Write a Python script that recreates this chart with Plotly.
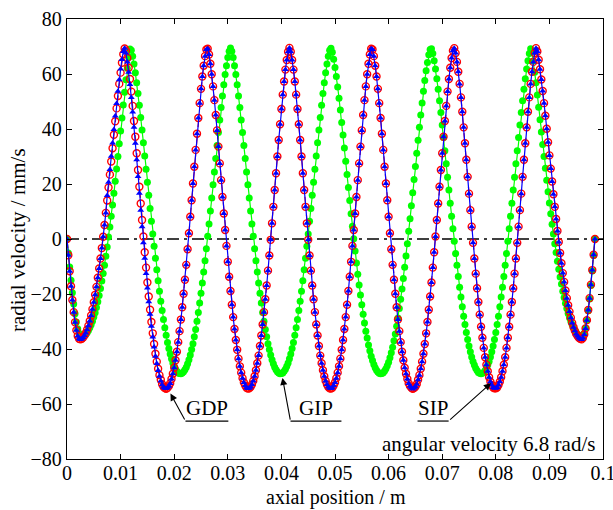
import plotly.graph_objects as go

# axial sample positions (m): uniform 0.00025 m step from 0 to 0.0985
axial_position_m = [round(0.00025 * i, 5) for i in range(395)]

# radial velocity (mm/s), one row = 0.0025 m
gdp_velocity = [
    0, -5.9, -11.7, -17.2, -22.2, -26.6, -30.3, -33.2, -35.3, -36.3,
    -36.5, -36.3, -35.8, -35.1, -34.2, -33.0, -31.5, -29.8, -27.8, -25.5,
    -23.0, -20.3, -17.4, -14.1, -10.7, -7.1, -3.3, 0.8, 5.1, 9.5,
    14.0, 18.7, 23.4, 28.2, 33.0, 37.9, 42.8, 47.5, 52.0, 56.4,
    60.5, 64.1, 67.2, 69.3, 68.5, 65.8, 62.3, 58.2, 53.6, 48.4,
    42.9, 37.2, 31.2, 25.1, 19.0, 12.9, 6.9, 0.9, -4.8, -10.4,
    -15.8, -20.9, -25.7, -30.2, -34.3, -38.2, -41.7, -44.6, -47.2, -49.5,
    -51.2, -52.8, -53.7, -54.2, -54.5, -54.1, -53.5, -52.5, -50.9, -49.0,
    -46.8, -44.1, -41.0, -37.5, -33.5, -29.3, -24.8, -19.9, -14.8, -9.4,
    -3.7, 2.1, 8.1, 14.1, 20.2, 26.3, 32.4, 38.3, 44.0, 49.4,
    54.6, 59.1, 63.0, 66.5, 68.9, 69.2, 67.1, 63.7, 59.9, 55.5,
    50.5, 45.1, 39.5, 33.6, 27.5, 21.4, 15.3, 9.3, 3.3, -2.5,
    -8.3, -13.7, -18.9, -23.9, -28.4, -32.7, -36.7, -40.3, -43.5, -46.3,
    -48.6, -50.6, -52.2, -53.3, -54.1, -54.4, -54.3, -53.8, -52.9, -51.6,
    -49.9, -47.7, -45.2, -42.4, -38.9, -35.1, -31.1, -26.6, -21.9, -16.9,
    -11.5, -6.0, -0.3, 5.7, 11.7, 17.8, 23.9, 30.0, 36.0, 41.7,
    47.3, 52.5, 57.3, 61.6, 65.1, 68.1, 69.5, 68.1, 65.1, 61.6,
    57.3, 52.5, 47.3, 41.7, 36.0, 30.0, 23.9, 17.8, 11.7, 5.7,
    -0.3, -6.0, -11.5, -16.9, -21.9, -26.6, -31.1, -35.1, -38.9, -42.4,
    -45.2, -47.7, -49.9, -51.6, -52.9, -53.8, -54.3, -54.4, -54.1, -53.3,
    -52.2, -50.6, -48.6, -46.3, -43.5, -40.3, -36.7, -32.7, -28.4, -23.9,
    -18.9, -13.7, -8.3, -2.5, 3.3, 9.3, 15.3, 21.4, 27.5, 33.6,
    39.5, 45.1, 50.5, 55.5, 59.9, 63.7, 67.1, 69.2, 68.9, 66.5,
    63.0, 59.1, 54.6, 49.4, 44.0, 38.3, 32.4, 26.3, 20.2, 14.1,
    8.1, 2.1, -3.7, -9.4, -14.8, -19.9, -24.8, -29.3, -33.5, -37.5,
    -41.0, -44.1, -46.8, -49.0, -50.9, -52.5, -53.5, -54.1, -54.5, -54.2,
    -53.7, -52.8, -51.2, -49.5, -47.2, -44.6, -41.7, -38.2, -34.3, -30.2,
    -25.7, -20.9, -15.8, -10.4, -4.8, 0.9, 6.9, 12.9, 19.0, 25.1,
    31.2, 37.2, 42.9, 48.4, 53.6, 58.2, 62.3, 65.8, 68.5, 69.4,
    67.6, 64.4, 60.8, 56.4, 51.5, 46.3, 40.6, 34.8, 28.8, 22.6,
    16.5, 10.5, 4.5, -1.4, -7.1, -12.6, -17.9, -22.9, -27.5, -31.9,
    -35.9, -39.6, -43.0, -45.7, -48.1, -50.3, -51.9, -53.1, -54.0, -54.3,
    -54.3, -54.0, -53.1, -51.9, -50.3, -48.1, -45.7, -43.0, -39.6, -35.9,
    -31.9, -27.5, -22.9, -17.9, -12.6, -7.1, -1.4, 4.5, 10.5, 16.5,
    22.6, 28.8, 34.8, 40.6, 46.3, 51.5, 56.4, 60.8, 64.4, 67.6,
    69.4, 68.2, 65.2, 61.7, 58.0, 53.8, 49.4, 44.8, 40.1, 35.2,
    30.4, 25.6, 20.9, 16.3, 11.7, 7.3, 2.9, -1.1, -5.1, -8.8,
    -12.4, -15.6, -18.7, -21.5, -24.1, -26.4, -28.6, -30.5, -32.1, -33.4,
    -34.5, -35.3, -35.9, -36.3, -36.5, -36.0, -34.7, -32.5, -29.5, -25.8,
    -21.5, -16.6, -11.3, -5.7, 0,
]

sip_velocity = [
    0, -5.9, -11.7, -17.2, -22.2, -26.6, -30.3, -33.2, -35.3, -36.3,
    -36.5, -36.3, -35.8, -35.1, -34.2, -33.0, -31.5, -29.8, -27.8, -25.5,
    -23.0, -20.3, -17.4, -14.1, -10.7, -7.1, -3.3, 0.8, 5.1, 9.5,
    15.8, 20.6, 25.3, 30.1, 34.9, 39.8, 44.7, 49.3, 53.7, 57.9,
    61.8, 65.3, 68.2, 69.4, 67.6, 64.4, 60.6, 56.2, 51.5, 46.2,
    40.6, 34.8, 28.8, 22.7, 16.6, 10.5, 4.5, -1.4, -7.0, -12.5,
    -17.8, -22.8, -27.4, -31.7, -35.6, -39.3, -42.6, -45.3, -47.8, -49.9,
    -51.6, -53.0, -53.9, -54.3, -54.4, -54.1, -53.5, -52.5, -50.9, -49.0,
    -46.8, -44.1, -41.0, -37.5, -33.5, -29.3, -24.8, -19.9, -14.8, -9.4,
    -3.7, 2.1, 8.1, 14.1, 20.2, 26.3, 32.4, 38.3, 44.0, 49.4,
    54.6, 59.1, 63.0, 66.5, 68.9, 69.2, 67.1, 63.7, 59.9, 55.5,
    50.5, 45.1, 39.5, 33.6, 27.5, 21.4, 15.3, 9.3, 3.3, -2.5,
    -8.3, -13.7, -18.9, -23.9, -28.4, -32.7, -36.7, -40.3, -43.5, -46.3,
    -48.6, -50.6, -52.2, -53.3, -54.1, -54.4, -54.3, -53.8, -52.9, -51.6,
    -49.9, -47.7, -45.2, -42.4, -38.9, -35.1, -31.1, -26.6, -21.9, -16.9,
    -11.5, -6.0, -0.3, 5.7, 11.7, 17.8, 23.9, 30.0, 36.0, 41.7,
    47.3, 52.5, 57.3, 61.6, 65.1, 68.1, 69.5, 68.1, 65.1, 61.6,
    57.3, 52.5, 47.3, 41.7, 36.0, 30.0, 23.9, 17.8, 11.7, 5.7,
    -0.3, -6.0, -11.5, -16.9, -21.9, -26.6, -31.1, -35.1, -38.9, -42.4,
    -45.2, -47.7, -49.9, -51.6, -52.9, -53.8, -54.3, -54.4, -54.1, -53.3,
    -52.2, -50.6, -48.6, -46.3, -43.5, -40.3, -36.7, -32.7, -28.4, -23.9,
    -18.9, -13.7, -8.3, -2.5, 3.3, 9.3, 15.3, 21.4, 27.5, 33.6,
    39.5, 45.1, 50.5, 55.5, 59.9, 63.7, 67.1, 69.2, 68.9, 66.5,
    63.0, 59.1, 54.6, 49.4, 44.0, 38.3, 32.4, 26.3, 20.2, 14.1,
    8.1, 2.1, -3.7, -9.4, -14.8, -19.9, -24.8, -29.3, -33.5, -37.5,
    -41.0, -44.1, -46.8, -49.0, -50.9, -52.5, -53.5, -54.1, -54.5, -54.2,
    -53.7, -52.8, -51.2, -49.5, -47.2, -44.6, -41.7, -38.2, -34.3, -30.2,
    -25.7, -20.9, -15.8, -10.4, -4.8, 0.9, 6.9, 12.9, 19.0, 25.1,
    31.2, 37.2, 42.9, 48.4, 53.6, 58.2, 62.3, 65.8, 68.5, 69.4,
    67.6, 64.4, 60.8, 56.4, 51.5, 46.3, 40.6, 34.8, 28.8, 22.6,
    16.5, 10.5, 4.5, -1.4, -7.1, -12.6, -17.9, -22.9, -27.5, -31.9,
    -35.9, -39.6, -43.0, -45.7, -48.1, -50.3, -51.9, -53.1, -54.0, -54.3,
    -54.3, -54.0, -53.1, -51.9, -50.3, -48.1, -45.7, -43.0, -39.6, -35.9,
    -31.9, -27.5, -22.9, -17.9, -12.6, -7.1, -1.4, 4.5, 10.5, 16.5,
    22.6, 28.8, 34.8, 40.6, 46.3, 51.5, 56.4, 60.8, 64.4, 67.6,
    69.4, 68.2, 65.2, 61.7, 58.0, 53.8, 49.4, 44.8, 40.1, 35.2,
    30.4, 25.6, 20.9, 16.3, 11.7, 7.3, 2.9, -1.1, -5.1, -8.8,
    -12.4, -15.6, -18.7, -21.5, -24.1, -26.4, -28.6, -30.5, -32.1, -33.4,
    -34.5, -35.3, -35.9, -36.3, -36.5, -36.0, -34.7, -32.5, -29.5, -25.8,
    -21.5, -16.6, -11.3, -5.7, 0,
]

gip_velocity = [
    0, -5.1, -10.2, -15.0, -19.5, -23.6, -27.2, -30.2, -32.6, -34.3,
    -35.3, -35.5, -35.4, -35.1, -34.7, -34.1, -33.3, -32.3, -31.2, -29.9,
    -28.4, -26.8, -24.9, -22.8, -20.5, -18.0, -15.3, -12.5, -9.5, -6.3,
    -2.9, 0.7, 4.4, 8.3, 12.4, 16.6, 21.0, 25.5, 30.0, 34.6,
    39.3, 44.0, 48.7, 53.4, 57.9, 62.1, 66.0, 69.1, 68.6, 66.5,
    63.6, 60.5, 56.8, 52.9, 48.6, 44.2, 39.6, 35.0, 30.2, 25.4,
    20.6, 15.9, 11.1, 6.5, 1.8, -2.6, -7.0, -11.2, -15.2, -19.0,
    -22.6, -26.0, -29.3, -32.3, -35.0, -37.6, -39.8, -41.8, -43.5, -45.1,
    -46.3, -47.4, -48.1, -48.7, -48.9, -49.0, -48.7, -48.3, -47.5, -46.6,
    -45.4, -43.9, -42.2, -40.2, -38.1, -35.5, -32.9, -29.9, -26.7, -23.3,
    -19.7, -16.0, -12.0, -7.9, -3.5, 1.0, 5.5, 10.2, 14.9, 19.7,
    24.4, 29.3, 34.0, 38.7, 43.3, 47.8, 52.0, 56.1, 59.8, 63.0,
    66.0, 68.3, 69.5, 68.3, 66.0, 63.0, 59.8, 56.1, 52.0, 47.8,
    43.3, 38.7, 34.0, 29.3, 24.4, 19.7, 14.9, 10.2, 5.5, 1.0,
    -3.5, -7.9, -12.0, -16.0, -19.7, -23.3, -26.7, -29.9, -32.9, -35.5,
    -38.1, -40.2, -42.2, -43.9, -45.4, -46.6, -47.5, -48.3, -48.7, -49.0,
    -48.9, -48.7, -48.1, -47.4, -46.3, -45.1, -43.5, -41.8, -39.8, -37.6,
    -35.0, -32.3, -29.3, -26.0, -22.6, -19.0, -15.2, -11.2, -7.0, -2.6,
    1.8, 6.5, 11.1, 15.9, 20.6, 25.4, 30.2, 35.0, 39.6, 44.2,
    48.6, 52.9, 56.8, 60.5, 63.6, 66.5, 68.6, 69.4, 67.9, 65.4,
    62.4, 59.1, 55.3, 51.2, 46.9, 42.4, 37.8, 33.1, 28.3, 23.5,
    18.7, 14.0, 9.2, 4.6, 0.1, -4.4, -8.7, -12.8, -16.7, -20.4,
    -23.9, -27.4, -30.5, -33.5, -36.0, -38.5, -40.6, -42.6, -44.2, -45.6,
    -46.8, -47.7, -48.4, -48.8, -49.0, -48.9, -48.6, -48.0, -47.2, -46.1,
    -44.8, -43.2, -41.4, -39.4, -37.0, -34.5, -31.7, -28.7, -25.3, -21.9,
    -18.2, -14.4, -10.3, -6.2, -1.7, 2.8, 7.4, 12.1, 16.8, 21.6,
    26.4, 31.2, 35.9, 40.6, 45.1, 49.5, 53.7, 57.6, 61.2, 64.2,
    67.0, 68.9, 69.2, 67.5, 64.8, 61.8, 58.3, 54.5, 50.3, 46.0,
    41.5, 36.9, 32.1, 27.4, 22.5, 17.8, 13.0, 8.3, 3.7, -0.8,
    -5.3, -9.5, -13.6, -17.5, -21.1, -24.6, -28.1, -31.1, -34.0, -36.5,
    -38.9, -41.0, -42.9, -44.5, -45.8, -47.0, -47.8, -48.5, -48.8, -49.0,
    -48.8, -48.5, -47.8, -47.0, -45.8, -44.5, -42.9, -41.0, -38.9, -36.5,
    -34.0, -31.1, -28.1, -24.6, -21.1, -17.5, -13.6, -9.5, -5.3, -0.8,
    3.7, 8.3, 13.0, 17.8, 22.5, 27.4, 32.1, 36.9, 41.5, 46.0,
    50.3, 54.5, 58.3, 61.8, 64.8, 67.5, 69.2, 68.0, 64.7, 60.6,
    56.8, 52.4, 47.9, 43.4, 38.9, 34.4, 30.0, 25.7, 21.4, 17.2,
    13.1, 9.2, 5.4, 1.8, -1.7, -4.9, -8.1, -11.0, -13.8, -16.4,
    -19.0, -21.3, -23.4, -25.3, -27.1, -28.6, -30.0, -31.2, -32.3, -33.2,
    -34.0, -34.6, -35.0, -35.3, -35.5, -35.4, -34.3, -32.4, -29.6, -26.1,
    -21.8, -16.9, -11.6, -6.0, 0,
]

assert len(gdp_velocity) == len(axial_position_m), len(gdp_velocity)
assert len(sip_velocity) == len(axial_position_m), len(sip_velocity)
assert len(gip_velocity) == len(axial_position_m), len(gip_velocity)

zero_line_x = [0, 0.1]
zero_line_y = [0, 0]

x_ticks = [0, 0.01, 0.02, 0.03, 0.04, 0.05, 0.06, 0.07, 0.08, 0.09, 0.1]
x_tick_text = ["0", "0.01", "0.02", "0.03", "0.04", "0.05", "0.06", "0.07", "0.08", "0.09", "0.1"]
y_ticks = [-80, -60, -40, -20, 0, 20, 40, 60, 80]
y_tick_text = ["\u221280", "\u221260", "\u221240", "\u221220", "0", "20", "40", "60", "80"]

FONT = "Liberation Serif, Times New Roman, serif"

fig = go.Figure()

fig.add_trace(go.Scatter(
    x=zero_line_x, y=zero_line_y, mode="lines",
    line=dict(color="black", width=1.5, dash="12px,5px,3px,5px"),
    showlegend=False, hoverinfo="skip"))

fig.add_trace(go.Scatter(
    x=axial_position_m, y=gip_velocity, mode="lines+markers", name="GIP",
    line=dict(color="#00ff00", width=1.2),
    marker=dict(symbol="circle", size=7, color="#00ff00", line=dict(width=0)),
    showlegend=False))

fig.add_trace(go.Scatter(
    x=axial_position_m, y=gdp_velocity, mode="lines+markers", name="GDP",
    line=dict(color="#ff0000", width=1.2, dash="dash"),
    marker=dict(symbol="circle-open", size=7, color="#ff0000", line=dict(width=1.4)),
    showlegend=False))

fig.add_trace(go.Scatter(
    x=axial_position_m, y=sip_velocity, mode="lines+markers", name="SIP",
    line=dict(color="#0000ff", width=1.2),
    marker=dict(symbol="triangle-up", size=6, color="#0000ff", line=dict(width=0)),
    showlegend=False))

axis_common = dict(
    showline=True, linecolor="black", linewidth=1.3, mirror="ticks",
    ticks="inside", ticklen=5, tickwidth=1.2, tickcolor="black",
    showgrid=False, zeroline=False, ticklabeloverflow="allow", automargin=False,
    tickfont=dict(family=FONT, size=20, color="black"),
)

fig.update_xaxes(range=[0, 0.1], tickvals=x_ticks, ticktext=x_tick_text,
                 ticklabelstandoff=-4, **axis_common)
fig.update_yaxes(range=[-80, 80], tickvals=y_ticks, ticktext=y_tick_text, **axis_common)

annots = []
annots.append(dict(xref="paper", yref="paper", x=0.502, y=-0.088, xanchor="center", yanchor="middle",
                   text="axial position / m", showarrow=False,
                   font=dict(family=FONT, size=20, color="black")))
annots.append(dict(xref="paper", yref="paper", x=-0.091, y=0.498, xanchor="center", yanchor="middle",
                   text="radial velocity / mm/s", textangle=-90, showarrow=False,
                   font=dict(family=FONT, size=21, color="black")))
annots.append(dict(xref="paper", yref="paper", x=0.989, y=0.033, xanchor="right", yanchor="middle",
                   text="angular velocity 6.8 rad/s", showarrow=False,
                   font=dict(family=FONT, size=21, color="black")))

labels = [
    # text, text_x, underline x0, x1, arrow tail (x,y), arrow head (x,y)
    ("GDP", 0.0261, 0.0221, 0.0301, (0.0221, -66.2), (0.0193, -56.2)),
    ("GIP", 0.0464, 0.0417, 0.0512, (0.0417, -66.2), (0.0402, -50.5)),
    ("SIP", 0.0683, 0.0654, 0.0712, (0.0712, -66.2), (0.0791, -52.4)),
]
shapes = []
for text, tx, ux0, ux1, tail, head in labels:
    annots.append(dict(xref="x", yref="y", x=tx, y=-61.6, xanchor="center", yanchor="middle",
                       text=text, showarrow=False, font=dict(family=FONT, size=21, color="black")))
    shapes.append(dict(type="line", xref="x", yref="y", x0=ux0, x1=ux1, y0=-66.2, y1=-66.2,
                       line=dict(color="black", width=1.2)))
    annots.append(dict(xref="x", yref="y", axref="x", ayref="y", x=head[0], y=head[1],
                       ax=tail[0], ay=tail[1], text="", showarrow=True,
                       arrowhead=2, arrowsize=1.3, arrowwidth=1.1, arrowcolor="black", standoff=0))

fig.update_layout(
    width=613, height=510,
    margin=dict(l=67, r=10, t=19, b=51),
    paper_bgcolor="white", plot_bgcolor="white",
    annotations=annots, shapes=shapes,
    font=dict(family=FONT, color="black"),
)

fig.write_html("out.html")
